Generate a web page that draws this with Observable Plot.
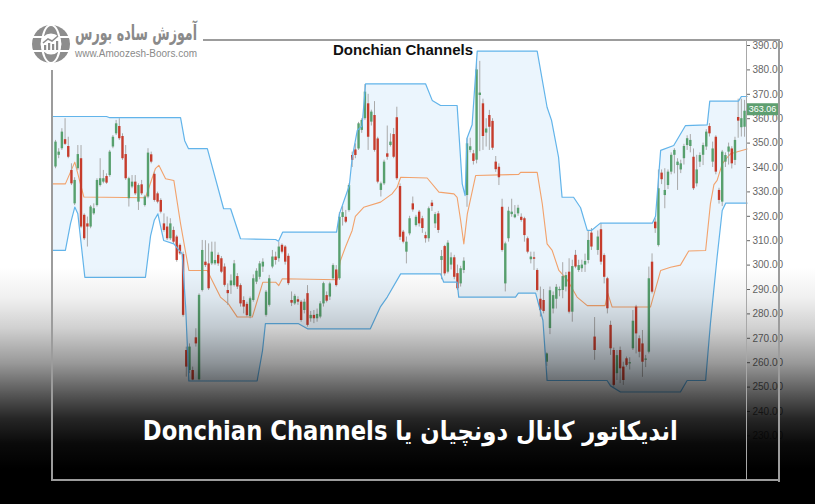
<!DOCTYPE html>
<html>
<head>
<meta charset="utf-8">
<script src="https://cdn.jsdelivr.net/npm/d3@7"></script>
<script src="https://cdn.jsdelivr.net/npm/@observablehq/plot@0.6"></script>
<style>
html,body{margin:0;padding:0;background:#fff;}
#wrap{position:relative;width:815px;height:504px;overflow:hidden;background:#fff;}
#chart{position:absolute;left:0;top:0;}
#shade{position:absolute;left:0;top:0;width:815px;height:504px;
  background:linear-gradient(to bottom, rgba(0,0,0,0) 0%, rgba(0,0,0,0) 53%, rgba(0,0,0,0.06) 59%, rgba(0,0,0,0.18) 65%, rgba(0,0,0,0.4) 72%, rgba(0,0,0,0.65) 78%, rgba(0,0,0,0.85) 83%, rgba(0,0,0,0.96) 88%, #000 93%, #000 100%);}
.ln{position:absolute;background:#9c9c9c;}
#title{position:absolute;left:-4.5px;top:41px;width:815px;text-align:center;font:bold 15px 'Liberation Sans',Arial,sans-serif;color:#111;white-space:nowrap;}
#ptitle{position:absolute;top:416px;left:0;white-space:nowrap;font:bold 26px 'DejaVu Sans',sans-serif;color:#fff;direction:rtl;unicode-bidi:embed;display:inline-block;}
#logoFa{position:absolute;left:75px;top:21px;white-space:nowrap;font:bold 21px 'DejaVu Sans',sans-serif;color:#8a8a8a;direction:rtl;display:inline-block;}
#logoUrl{position:absolute;left:75px;top:48px;white-space:nowrap;font:10px 'Liberation Sans',Arial,sans-serif;color:#8a8a8a;display:inline-block;}
#logo{position:absolute;left:0;top:0;}
</style>
</head>
<body>
<div id="wrap">
  <div id="chart"></div>
  <div id="shade"></div>
  <div class="ln" style="left:203px;top:39px;width:577px;height:2px"></div>
  <div class="ln" style="left:51px;top:70px;width:2px;height:411px"></div>
  <div class="ln" style="left:778px;top:39px;width:2px;height:443px"></div>
  <div class="ln" style="left:51px;top:479px;width:729px;height:2px"></div>
  <div class="ln" style="left:745.5px;top:40px;width:1px;height:440px;background:#a8a8a8"></div>
  <svg id="logo" width="75" height="70">
    <circle cx="51" cy="44" r="19" fill="#8d8d8d"/>
    <ellipse cx="51" cy="44" rx="9" ry="19" fill="none" stroke="#fff" stroke-width="2"/>
    <path d="M33 37 H69 M33 51 H69" stroke="#fff" stroke-width="2"/>
    <circle cx="51" cy="44" r="10.5" fill="#fff"/>
    <rect x="44" y="45" width="2.2" height="5" fill="#8d8d8d"/>
    <rect x="48" y="43" width="2.2" height="7" fill="#8d8d8d"/>
    <rect x="52" y="44" width="2.2" height="6" fill="#8d8d8d"/>
    <rect x="56" y="41" width="2.2" height="9" fill="#8d8d8d"/>
    <polyline points="43,43 48,39 52,41 58,36" fill="none" stroke="#8d8d8d" stroke-width="1.6"/>
  </svg>
  <div id="logoFa">آموزش ساده بورس</div>
  <div id="logoUrl">www.Amoozesh-Boors.com</div>
  <div id="title"></div>
  <div id="ptitle"></div>
</div>
<script>
// ---------- data ----------
const chartTitle = "Donchian Channels";
const pageTitle = "اندیکاتور کانال دونچیان یا Donchian Channels";
const yTicks = [230, 240, 250, 260, 270, 280, 290, 300, 310, 320, 330, 340, 350, 360, 370, 380, 390];
const lastClose = 363.06;

const open = [
340.2,345,347.7,351.4,348.6,338.8,325.1,339.5,343.6,320.4,
316.9,315.6,321,324.4,332.6,334,336.3,336.7,348.4,353.8,
356.8,352.7,345.3,327.2,332,334,325.8,332.9,324.4,327.9,
345.2,337.2,329.2,326.5,316.9,315.6,310.8,314.2,311.5,308.1,
304.3,265,256.8,256.8,270.2,253,289.6,301.2,300.5,300.5,
300.5,304,302.6,299.2,289.6,291.5,291.6,295.3,291.6,285.5,
283.9,278.9,285.5,293,295,299.2,279.4,283.5,299.2,303.3,
302.6,308.1,307.4,303.6,285.5,284.1,285.8,284.8,281.4,288.3,
278,279.4,278,278.7,284.1,287.5,286.9,294.4,298,294.4,
319.5,319.6,322.4,344.9,347.2,347.6,355.2,360,366.1,358.6,
361.3,351.7,330.6,333.3,345.6,349,353.5,360.4,332.2,313.5,
305.3,312.8,325.1,316.2,321.7,319,312.1,310.8,325.4,316.9,
321,301.9,307.6,297.1,300,303,296.5,292.3,297.8,328.5,
347,345.6,343,369.5,366.1,354.1,361.3,358.9,342.2,340.1,
323.7,292.3,310.8,320.7,319.4,321,319.6,319,310.8,302.2,
303,297.8,286,285.5,260.2,274,282,286,289.5,289.6,
291,297.1,280.7,304,297.8,298.5,300,301.9,313.1,270.5,
306,314.5,303.9,294.4,275.3,265,255.5,265,258.2,261.6,
259.5,265.7,282.8,269.8,267.7,261,264.3,301.2,317.6,308,
337.7,328.5,332.6,338.1,345,340.8,339,343.6,349,348.6,
344.2,333.3,342.2,345,348.4,356.8,342.2,352.4,330.6,325.8,
342.2,346.3,347.6,342.9,360.5,356.3,356.5];

const high = [
351.1,347.7,355.9,360,352.4,341.5,335.8,349,349,321,
319.7,324.4,325.1,335.4,343.6,338.8,337.4,347,353.1,359.3,
360,353.8,349,336,336.7,336.7,333.3,334.7,328.6,347.7,
346.3,338.1,329.9,327.2,321,319.7,319,315.6,312.2,308.7,
305.3,266.4,267.7,258.2,273.9,288.2,310.1,310,308.7,309.4,
309.4,305,303.5,300.5,292.3,296,301.9,296.5,292.3,287,
284.8,286.9,296,298.5,301.5,302.6,289.6,295.8,306,305.3,
309.4,308.7,308,304.6,289,288,287,285.5,286,291.6,
281,281.4,282,285,293,289,293,300.5,299.8,321.5,
324,322.4,333.3,346.3,349.7,358.5,360,374,370,363.5,
367,352.4,334,343,357,353.8,356,364.7,333.3,314.2,
311.5,320,327.9,320.4,322.4,320,313.5,323.8,326.5,321.5,
322,306,308.1,310,305,304,300,299.5,303,351.8,
352,347,383,383.5,368,360,363.4,360,344.5,341.5,
327,309.4,323.7,327,324.4,324.5,321,319.6,311.5,305.3,
305.3,298.5,291,290,264,291,289,292,291,301,
297,302.6,302,306,302,302,304.5,314,315,278.5,
314,317,304.6,295,277,266,265,266.4,260.2,262.3,
262,281.4,283.5,271,273.2,263,299.2,304.6,319,339,
339,339.5,339,346,347.7,343.6,343,349.5,353,353.5,
347.6,345,346,350,355.5,358,350.4,353,331.5,347,
346,350,348.5,352.4,368,368,367.5];

const low = [
339.5,343.6,347,349,343.6,332.6,324.4,338.8,314.9,310.1,
307.4,314.9,320.4,323.8,332,333.3,333.1,336,347.7,353.1,
351.1,342.9,334.7,323.8,331.3,328.5,322.4,328.5,323.8,327.2,
341.5,325.8,325.1,321,313.5,310.1,310.1,308.7,301.2,304,
278.7,254.1,255.5,252.6,266.4,252.6,289,299,289.6,299.8,
299.8,299.5,296.5,291,283.5,288,291,290,282.8,280,
278.7,278,284.8,292,294,297,278.7,282.8,298.5,300,
301.2,304.6,300,291.6,283,283.5,283.5,276.6,280,274.6,
276.6,276,276.6,278,282.8,284.5,285.5,293.7,291,293.7,
316,317,321.7,340,343.6,347,354,359.3,347,357,
346.3,333.3,327.9,332.6,343,348.4,343.6,334.7,310.1,308.7,
300.5,312,321.7,315.6,315.6,313,309,309.4,322,315,
313,294,295.5,296.4,298,294,289.6,291,296.5,323.7,
346,341,341.5,346.5,347,348.4,347,347,338,332.6,
305.3,289,309.4,319.6,319,320,317.6,309.4,304.6,300.5,
297.8,289,278.7,280,258.5,271.5,280,282,287,286.2,
289,280,276.6,298.5,297,297,297,300.5,306,261,
304,300,292.3,280,263,250,252.7,251.4,250.7,258.2,
257,265,263.6,262,254,258,263.6,288.2,313,307.4,
333,323.1,331,337,337.4,330.6,337.5,341,347,346,
330.6,332,340,340.8,347,352.5,340,337,325,324,
340,341,339.4,340.8,352,352.5,352.4];

const close = [
350.4,346.3,354.5,349.5,344.2,333.3,334.7,345.3,315.6,310.8,
315.6,323.8,323.1,334.7,335.4,335.4,333.6,346.3,352.4,357.9,
351.8,343.6,335.4,335.4,334,329.2,332.6,329.2,327.9,345.9,
342.2,326.5,325.8,321.7,314.2,310.8,316.9,309.4,301.9,304.6,
279.4,258.2,266.4,252.9,267.7,287.6,306,299.8,290.3,305.3,
301.9,300.5,297.1,291.7,288.3,293.5,300.5,291,284.1,282.8,
279.3,286.2,294.4,297.5,300.5,301.2,288.9,294.4,303.3,301.9,
307.4,305.3,301.2,292.4,284.4,287.2,284.8,277.3,284.8,275.3,
279.4,278,279.8,284.1,292.4,285.2,292.3,299.8,291.6,319.6,
321.5,317.6,332.6,342.9,344.9,357.9,359.3,370.9,352.4,362.7,
347,334,333.3,342.2,344.2,350.4,344.2,335.4,311.4,309.4,
309.4,319,322.6,319.6,316.9,315,310.8,323.1,324,320.7,
314.2,303.5,296.4,309,303,295,290.3,298.5,301.6,349.7,
348.5,342.5,380,370.5,352.7,355.8,356.5,347.9,339.1,335.8,
306,308.7,322.1,321.7,320.6,323.3,318.3,312.1,305.3,303.3,
302.4,289.6,281.5,281,263.6,289.5,287.5,290.9,290,295.3,
295.7,280.7,299.4,299.2,299.8,300,301.5,310.1,307.4,265,
311.5,301.2,295,282.1,265.7,250.7,262.9,257.5,252.7,258.9,
260,277,271.8,264.3,260.2,261.5,294.4,288.9,314.9,331.3,
335,330.6,338.1,345,347,342.2,341.5,348.6,351.8,351.1,
331.3,339,344.9,349,354.5,353.8,347.6,338.1,326.5,346.3,
344.9,348.4,341.5,351.1,359,360,363.06];

// Donchian channel outlines (bar position, price)
const upperBar = [-0.94,16,17,39.2,40.5,41.7,47.6,52.7,54.9,58,69,69.9,71.2,88.1,89,92.1,93,94.6,96.1,97.2,116,118.1,120.7,125.9,127.5,128.4,129,130.6,132.2,151,154.1,155.5,157.7,158.8,162.4,164.6,166.7,168,170.8,187.1,188.1,189.7,193.8,197.5,204.3,205.1,214.1,215,216.8];
const upperVal = [360.9,360.9,360.4,360.4,351,347.7,347.7,323.1,323.1,310.8,310.5,309.8,313.5,313.5,321,332.6,344,355.2,357,374.3,374.3,367.5,365.4,365.4,333.3,328.5,352,357.5,387.7,387.7,364.7,359.3,344.2,327.8,327.8,323.5,314.2,314.2,317.2,317.2,320,347,349,357.2,357.5,367.2,367.2,369.1,369.1];
const lowerBar = [-0.94,3.1,4.7,6.05,7,9.2,28.2,29.8,31,32.1,33.9,37.1,39.7,40.8,41.8,63.2,64.9,65.8,76.2,79,98.7,101.9,104,108.2,120.7,121.7,125.9,126.4,144.2,145.1,150.5,152.8,154.1,172.9,174,177.1,195.9,198,203.8,205.3,207.4,209,210.1,216.8];
const lowerVal = [306,306,317,323.8,321,295,295,312,318.5,321,310.1,308.7,304.6,282.8,252.5,252.5,265,276,276,273.9,273.9,283,286.9,296.4,296.4,293,293,286.9,286.9,288.5,288.5,277.3,252.7,252.7,250.5,248,248,252.7,252.7,276,303.3,322.4,325.4,325.4];
const midBar = [-0.94,3.1,6.05,8.9,28.2,31.3,32.4,34.5,37.1,39.2,41.8,47.6,48.6,51.7,54.2,57,61.7,65,69,70,71.1,88.3,89.3,90.9,93,94,96.6,101.9,105.5,107.1,108.2,116.5,120.2,124.9,125.9,127,128,129.1,131.7,145.2,145.8,151,152.6,154.1,155.7,157.8,160.4,163.5,166.7,172.3,173.1,174.5,186.5,189.1,189.7,192.8,195.9,198.5,203.8,205.3,206.4,207.4,209,210.6,211.6,216.8];
const midVal = [333.3,333.3,342.2,327.9,327.6,339.5,340.9,335.4,334.7,317,297.8,297.8,295,286.9,284.1,278.7,278.7,293,293,291.6,294.4,294,301.8,307.4,314.2,320,323.7,325.8,329.2,331.9,336,335.7,329.9,329.2,327.8,318.3,308.7,321,336.7,337.2,338,338,325.1,308.7,306,297.8,294,286.9,283.4,283.4,288.5,282.8,282.8,295,297.8,299.1,300,305.8,306,325.1,333,334.7,341.5,344.2,345.6,347.6];

// ---------- build ----------
const candles = open.map((o, i) => ({i, o, h: high[i], l: low[i], c: close[i]}));
const upper = upperBar.map((x, k) => ({x, y: upperVal[k]}));
const lower = lowerBar.map((x, k) => ({x, y: lowerVal[k]}));
const middle = midBar.map((x, k) => ({x, y: midVal[k]}));
const band = upper.concat(lower.slice().reverse());

const GREEN = "#57a06e", RED = "#c63c2c";

const priceTag = (index, scales, values, dims) => {
  const y = scales.y(lastClose) - 1.5;
  const x0 = dims.width - dims.marginRight;
  const g = d3.create("svg:g");
  g.append("rect").attr("x", x0).attr("y", y - 6).attr("width", 33).attr("height", 12).attr("fill", "#5e9f70");
  g.append("text").attr("x", x0 + 16.5).attr("y", y).attr("dy", "0.35em")
    .attr("text-anchor", "middle").attr("fill", "#fff").attr("font-size", 9)
    .text(d3.format(".2f")(lastClose));
  return g.node();
};

const chart = Plot.plot({
  width: 815,
  height: 504,
  marginLeft: 52,
  marginRight: 69,
  marginTop: 40,
  marginBottom: 24,
  style: {background: "transparent", fontFamily: "'Liberation Sans', Arial, sans-serif", fontSize: "10px", color: "#666", overflow: "visible"},
  x: {type: "linear", domain: [-0.94, 216.8], range: [52, 746.6], axis: null},
  y: {domain: [230, 390], range: [435.4, 45], axis: "right", ticks: yTicks, tickFormat: d3.format(".2f"), tickSize: 3, tickPadding: 3, label: null},
  marks: [
    Plot.line(band, {x: "x", y: "y", fill: "#ebf5fd", stroke: "none", curve: "linear"}),
    Plot.line(middle, {x: "x", y: "y", stroke: "#f2a26c", strokeWidth: 1.1}),
    Plot.ruleX(candles, {x: "i", y1: "l", y2: "h", stroke: "#a9a9a9", strokeWidth: 1}),
    Plot.ruleX(candles, {filter: d => d.c >= d.o, x: "i", y1: "o", y2: "c", stroke: GREEN, strokeWidth: 2.4, strokeLinecap: "butt"}),
    Plot.ruleX(candles, {filter: d => d.c < d.o, x: "i", y1: "o", y2: "c", stroke: RED, strokeWidth: 2.4, strokeLinecap: "butt"}),
    Plot.line(upper, {x: "x", y: "y", stroke: "#62b4ea", strokeWidth: 1.2}),
    Plot.line(lower, {x: "x", y: "y", stroke: "#62b4ea", strokeWidth: 1.2}),
    priceTag
  ]
});
document.getElementById("chart").appendChild(chart);

document.getElementById("title").textContent = chartTitle;
const pt = document.getElementById("ptitle");
pt.textContent = pageTitle;

function fit() {
  pt.style.transform = "none";
  const w0 = pt.getBoundingClientRect().width;
  pt.style.left = (410 - w0 / 2) + "px";
  pt.style.transformOrigin = "50% 50%";
  pt.style.transform = `scaleX(${535 / w0})`;
  const lf = document.getElementById("logoFa");
  lf.style.transform = "none";
  const lw = lf.getBoundingClientRect().width;
  lf.style.transformOrigin = "0 50%";
  lf.style.transform = `scaleX(${122 / lw})`;
  const lu = document.getElementById("logoUrl");
  lu.style.transform = "none";
  const uw = lu.getBoundingClientRect().width;
  lu.style.transformOrigin = "0 50%";
  lu.style.transform = `scaleX(${122 / uw})`;
}
fit();
if (document.fonts && document.fonts.ready) document.fonts.ready.then(fit);
</script>
</body>
</html>
